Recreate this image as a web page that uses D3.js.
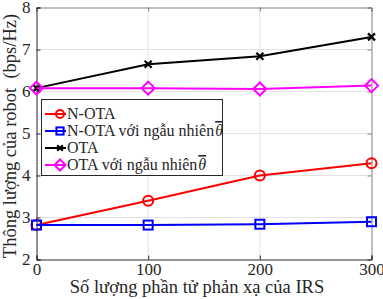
<!DOCTYPE html>
<html lang="vi">
<head>
<meta charset="UTF-8">
<script src="https://d3js.org/d3.v7.min.js"></script>
<style>
  body { margin: 0; background: #fff; }
  svg text { font-family: "Liberation Serif", "DejaVu Serif", serif; fill: #262626; }
</style>
</head>
<body>
<div id="chart"></div>
<script>
// dữ liệu
var xValues = [0, 100, 200, 300];
var nOta = [2.82, 3.40, 4.00, 4.29];
var nOtaRandom = [2.82, 2.82, 2.84, 2.90];
var ota = [6.08, 6.65, 6.84, 7.30];
var otaRandom = [6.08, 6.08, 6.06, 6.14];
var xTicks = [0, 100, 200, 300];
var yTicks = [2, 3, 4, 5, 6, 7, 8];

var W = 383, H = 299;
var m = { left: 36.5, right: 371.5, top: 7.5, bottom: 259.5 };

var svg = d3.select("#chart").append("svg")
    .attr("width", W).attr("height", H);

var x = d3.scaleLinear().domain([0, 300]).range([m.left, m.right]);
var y = d3.scaleLinear().domain([2, 8]).range([m.bottom, m.top]);

// lưới
svg.append("g").selectAll("line").data(xTicks.slice(1, -1)).join("line")
    .attr("x1", d => x(d)).attr("x2", d => x(d))
    .attr("y1", m.top).attr("y2", m.bottom)
    .attr("stroke", "#e3e3e3").attr("stroke-width", 1);
svg.append("g").selectAll("line").data(yTicks.slice(1, -1)).join("line")
    .attr("x1", m.left).attr("x2", m.right)
    .attr("y1", d => y(d)).attr("y2", d => y(d))
    .attr("stroke", "#e3e3e3").attr("stroke-width", 1);

// trục
var axT = svg.append("g").attr("transform", "translate(0," + m.top + ")")
    .call(d3.axisTop(x).tickValues(xTicks).tickSize(-4).tickFormat(""));
var axR = svg.append("g").attr("transform", "translate(" + m.right + ",0)")
    .call(d3.axisRight(y).tickValues(yTicks).tickSize(-4).tickFormat(""));
var axB = svg.append("g").attr("transform", "translate(0," + m.bottom + ")")
    .call(d3.axisBottom(x).tickValues(xTicks).tickSize(-4).tickPadding(3).tickFormat(d3.format("d")));
var axL = svg.append("g").attr("transform", "translate(" + m.left + ",0)")
    .call(d3.axisLeft(y).tickValues(yTicks).tickSize(-4).tickPadding(6).tickFormat(d3.format("d")));
[axB, axL].forEach(function(a) {
  a.selectAll("path, line").attr("stroke", "#262626");
  a.selectAll("text").attr("font-size", 17).attr("font-family", "Liberation Serif").attr("fill", "#262626");
});
[axT, axR].forEach(function(a) {
  a.selectAll("path, line").attr("stroke", "#808080");
});
axL.selectAll("text").attr("dy", "0.3em");

// tiêu đề trục
svg.append("text")
    .attr("x", (m.left + m.right) / 2 - 7).attr("y", 293)
    .attr("text-anchor", "middle").attr("font-size", 18.5)
    .text("Số lượng phần tử phản xạ của IRS");
svg.append("text")
    .attr("transform", "translate(16,136) rotate(-90)")
    .attr("text-anchor", "middle").attr("font-size", 18.5)
    .attr("xml:space", "preserve")
    .text("Thông lượng của robot  (bps/Hz)");

var series = [
  { name: "N-OTA", values: nOta, color: "#ff0000", marker: "circle", theta: false },
  { name: "N-OTA với ngẫu nhiên", values: nOtaRandom, color: "#0000ff", marker: "square", theta: true },
  { name: "OTA", values: ota, color: "#000000", marker: "cross", theta: false },
  { name: "OTA với ngẫu nhiên", values: otaRandom, color: "#ff00ff", marker: "diamond", theta: true }
];

function drawMarker(g, type, cx, cy, color, s) {
  if (type === "circle") {
    g.append("circle").attr("cx", cx).attr("cy", cy).attr("r", 5 * s)
      .attr("fill", "none").attr("stroke", color).attr("stroke-width", 2);
  } else if (type === "square") {
    g.append("rect").attr("x", cx - 4.5 * s).attr("y", cy - 4.5 * s)
      .attr("width", 9 * s).attr("height", 9 * s)
      .attr("fill", "none").attr("stroke", color).attr("stroke-width", 2);
  } else if (type === "cross") {
    var r = 3.5 * s;
    g.append("path").attr("d", "M" + (cx - r) + "," + (cy - r) + "L" + (cx + r) + "," + (cy + r) +
        "M" + (cx - r) + "," + (cy + r) + "L" + (cx + r) + "," + (cy - r))
      .attr("stroke", color).attr("stroke-width", 2.2);
  } else {
    var d = 6.5 * s;
    g.append("path").attr("d", "M" + cx + "," + (cy - d) + "L" + (cx + d) + "," + cy +
        "L" + cx + "," + (cy + d) + "L" + (cx - d) + "," + cy + "Z")
      .attr("fill", "none").attr("stroke", color).attr("stroke-width", 2);
  }
}

var line = d3.line().x((d, i) => x(xValues[i])).y(d => y(d));
series.forEach(function(s) {
  var g = svg.append("g");
  g.append("path").datum(s.values).attr("d", line)
    .attr("fill", "none").attr("stroke", s.color).attr("stroke-width", 2);
  s.values.forEach(function(v, i) { drawMarker(g, s.marker, x(xValues[i]), y(v), s.color, 1); });
});

// chú thích
var lg = svg.append("g");
lg.append("rect").attr("x", 41.5).attr("y", 99.5).attr("width", 181).attr("height", 76)
  .attr("fill", "#fff").attr("stroke", "#262626").attr("stroke-width", 1);
var rowY = [114, 131, 148, 165];
series.forEach(function(s, i) {
  var cy = rowY[i];
  lg.append("line").attr("x1", 45).attr("x2", 66).attr("y1", cy).attr("y2", cy)
    .attr("stroke", s.color).attr("stroke-width", 2);
  drawMarker(lg, s.marker, 60, cy, s.color, s.marker === "diamond" ? 0.85 : 0.8);
  var t = lg.append("text").attr("x", 67).attr("y", cy + 5).attr("font-size", 16).attr("fill", "#000");
  t.append("tspan").text(s.name);
  if (s.theta) {
    t.append("tspan").attr("font-style", "italic").attr("dx", 1)
      .style("text-decoration", "overline").text("θ");
  }
});
</script>
</body>
</html>
